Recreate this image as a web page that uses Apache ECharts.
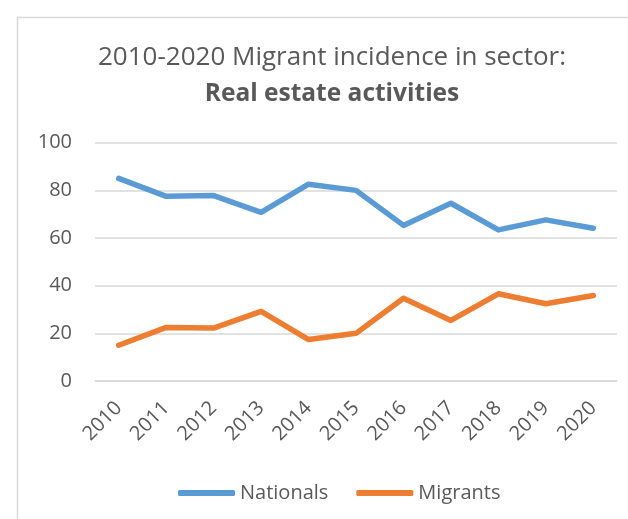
<!DOCTYPE html>
<html>
<head>
<meta charset="utf-8">
<script src="https://cdn.jsdelivr.net/npm/echarts@6/dist/echarts.min.js"></script>
<style>
  html, body { margin: 0; padding: 0; background: #fff; }
  #chart { width: 628px; height: 519px; }
</style>
</head>
<body>
<div id="chart"></div>
<script>
// Share of workers in real estate activities, 2010-2020 (%)
const years = ['2010', '2011', '2012', '2013', '2014', '2015', '2016', '2017', '2018', '2019', '2020'];
const nationals = [85.0, 77.5, 77.8, 70.8, 82.6, 80.0, 65.3, 74.6, 63.4, 67.6, 64.1];
const migrants = [15.0, 22.5, 22.2, 29.2, 17.4, 20.0, 34.7, 25.4, 36.6, 32.4, 35.9];
const yTicks = { min: 0, max: 100, interval: 20 };

const textColor = '#595959';
const gridColor = '#d9d9d9';
const font = 'Open Sans';

const chart = echarts.init(document.getElementById('chart'), null, { renderer: 'canvas' });

chart.setOption({
  animation: false,
  backgroundColor: '#ffffff',
  textStyle: { fontFamily: font },
  graphic: [
    {
      type: 'rect',
      shape: { x: 17.5, y: 17.5, width: 700, height: 600 },
      style: { fill: 'none', stroke: gridColor, lineWidth: 1.5 },
      silent: true
    },
    {
      type: 'text',
      x: 332, y: 58,
      style: {
        text: '2010-2020 Migrant incidence in sector:',
        fill: textColor, font: '26px "Open Sans"',
        textAlign: 'center', textVerticalAlign: 'middle'
      }
    },
    {
      type: 'text',
      x: 332, y: 94,
      style: {
        text: 'Real estate activities',
        fill: textColor, font: 'bold 24.5px "Open Sans"',
        textAlign: 'center', textVerticalAlign: 'middle'
      }
    }
  ],
  legend: {
    bottom: 11,
    left: 173,
    itemWidth: 57,
    itemHeight: 6,
    itemGap: 28,
    icon: 'roundRect',
    textStyle: { color: textColor, fontSize: 20, fontFamily: font },
    data: ['Nationals', 'Migrants']
  },
  grid: { left: 95, right: 11, top: 142.7, bottom: 138, containLabel: false },
  xAxis: {
    type: 'category',
    data: years,
    boundaryGap: true,
    axisLine: { show: true, lineStyle: { color: gridColor, width: 1.5 } },
    axisTick: { show: false },
    axisLabel: { color: textColor, fontSize: 20, rotate: 45, margin: 24, fontFamily: font }
  },
  yAxis: {
    type: 'value',
    min: yTicks.min, max: yTicks.max, interval: yTicks.interval,
    axisLine: { show: false },
    axisTick: { show: false },
    splitLine: { lineStyle: { color: gridColor, width: 1.5 } },
    axisLabel: { color: textColor, fontSize: 20, margin: 23, fontFamily: font }
  },
  series: [
    {
      name: 'Nationals', type: 'line', data: nationals,
      symbol: 'none', smooth: false,
      lineStyle: { color: '#5b9bd5', width: 5.5, cap: 'round', join: 'round' },
      itemStyle: { color: '#5b9bd5' }
    },
    {
      name: 'Migrants', type: 'line', data: migrants,
      symbol: 'none', smooth: false,
      lineStyle: { color: '#ed7d31', width: 5.5, cap: 'round', join: 'round' },
      itemStyle: { color: '#ed7d31' }
    }
  ]
});
</script>
</body>
</html>
